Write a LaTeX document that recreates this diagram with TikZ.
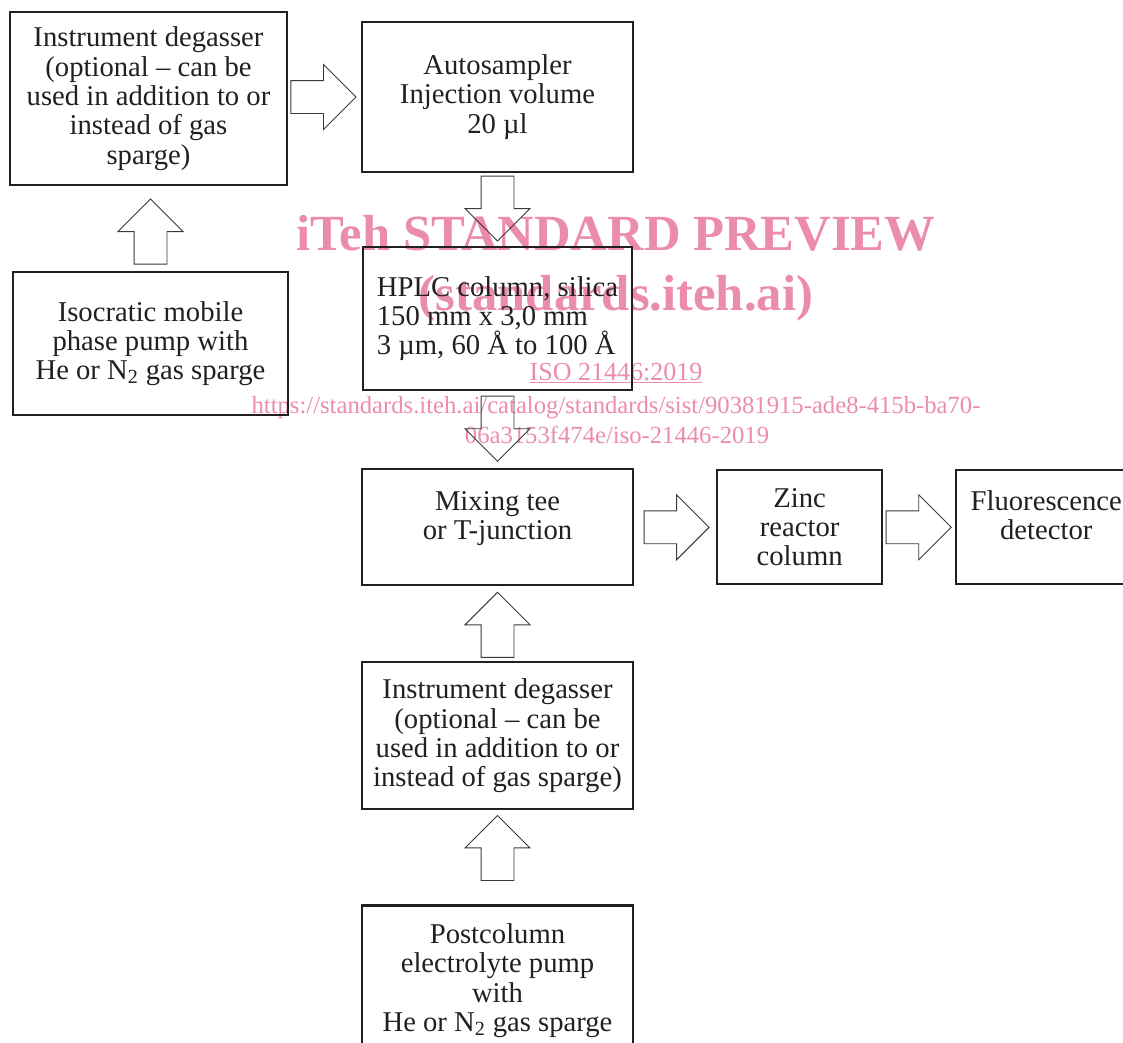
\documentclass[tikz,border=0pt]{standalone}
\usepackage{fontspec}
\setmainfont{Liberation Serif}
\usetikzlibrary{calc,positioning,shapes.arrows}
\definecolor{Ink}{HTML}{231F20}
\definecolor{Edge}{HTML}{3A3A3A}
\definecolor{Mark}{HTML}{EC8CAC}

\begin{document}
\begin{tikzpicture}[
  x=0.75pt,y=-0.75pt,
  stage/.style={
    draw=Ink,line width=1.6pt,text=Ink,align=center,inner sep=0pt,
    font=\fontsize{21.5}{22}\selectfont
  },
  flow/.style={
    single arrow,draw=Edge,line width=0.7pt,inner sep=12pt,outer sep=0pt,
    minimum height=48.75pt,minimum width=48pt,single arrow head extend=12pt
  },
  wmark/.style={text=Mark,inner sep=0pt,anchor=base}
]
  \useasboundingbox (0,0) rectangle (1123,1042);
  \clip (0,0) rectangle (1123,1042);

  % watermark
  \node[wmark,font=\fontsize{38}{40}\selectfont\bfseries] (wm1) at (616,250) {iTeh STANDARD PREVIEW};
  \node[wmark,font=\fontsize{38}{40}\selectfont\bfseries] (wm2) at (616,310) {(standards.iteh.ai)};
  \node[wmark,font=\fontsize{19.5}{22}\selectfont] (wm3) at (616,380) {\underline{ISO 21446:2019}};
  \node[wmark,font=\fontsize{18.5}{22}\selectfont] (wm4) at (616,413) {https://standards.iteh.ai/catalog/standards/sist/90381915-ade8-415b-ba70-};
  \node[wmark,font=\fontsize{18.5}{22}\selectfont] (wm5) at (617,443) {06a3153f474e/iso-21446-2019};

  % main line
  \node[stage,minimum width=207.75pt,minimum height=129.75pt] (degas1) at (148.5,98.5) {Instrument degasser\\(optional – can be\\used in addition to or\\instead of gas\\sparge)};
  \node[stage,minimum width=206.25pt,minimum height=107.25pt,below=63.75pt of degas1,xshift=1.5pt] (pump1) {Isocratic mobile\\phase pump with\\He or N\textsubscript{2} gas sparge};
  \node[stage,minimum width=203.25pt,minimum height=112.5pt] (sampler) at (497.5,97) {Autosampler\\Injection volume\\20 µl};
  \node[stage,align=left,minimum width=201.75pt,minimum height=107.25pt,below=54.75pt of sampler] (column) {HPLC column, silica\\150 mm x 3,0 mm\\3 µm, 60 Å to 100 Å};
  \node[stage,minimum width=203.25pt,minimum height=87pt,text depth=18pt,below=57.75pt of column] (tee) {Mixing tee\\or T-junction};
  \node[stage,minimum width=123.75pt,minimum height=85.5pt,right=61.5pt of tee] (zinc) {Zinc\\reactor\\column};
  \node[stage,minimum width=135pt,minimum height=85.5pt,text depth=18pt,right=54pt of zinc] (detector) {Fluorescence\\detector};

  % postcolumn line
  \node[stage,minimum width=203.25pt,minimum height=110.25pt,below=56.25pt of tee] (degas2) {Instrument degasser\\(optional – can be\\used in addition to or\\instead of gas sparge)};
  \node[stage,minimum width=203.25pt,minimum height=112.5pt,below=70.5pt of degas2] (pump2) {Postcolumn\\electrolyte pump\\with\\He or N\textsubscript{2} gas sparge};

  % block arrows
  \node[flow,anchor=tip] (f1) at ($(sampler.west)+(-5,0)$) {};
  \node[flow,rotate=90,anchor=tip] (f2) at ($(degas1.south -| pump1.north)+(0,13)$) {};
  \node[flow,rotate=-90,anchor=tip] (f3) at ($(column.north)+(0,-5)$) {};
  \node[flow,rotate=-90,anchor=tip] (f4) at ($(tee.north)+(0,-7)$) {};
  \node[flow,anchor=tip] (f5) at ($(zinc.west)+(-7,0)$) {};
  \node[flow,anchor=tip] (f6) at ($(detector.west)+(-4,0)$) {};
  \node[flow,rotate=90,anchor=tip] (f7) at ($(tee.south)+(0,6)$) {};
  \node[flow,rotate=90,anchor=tip] (f8) at ($(degas2.south)+(0,5)$) {};
\end{tikzpicture}
\end{document}
